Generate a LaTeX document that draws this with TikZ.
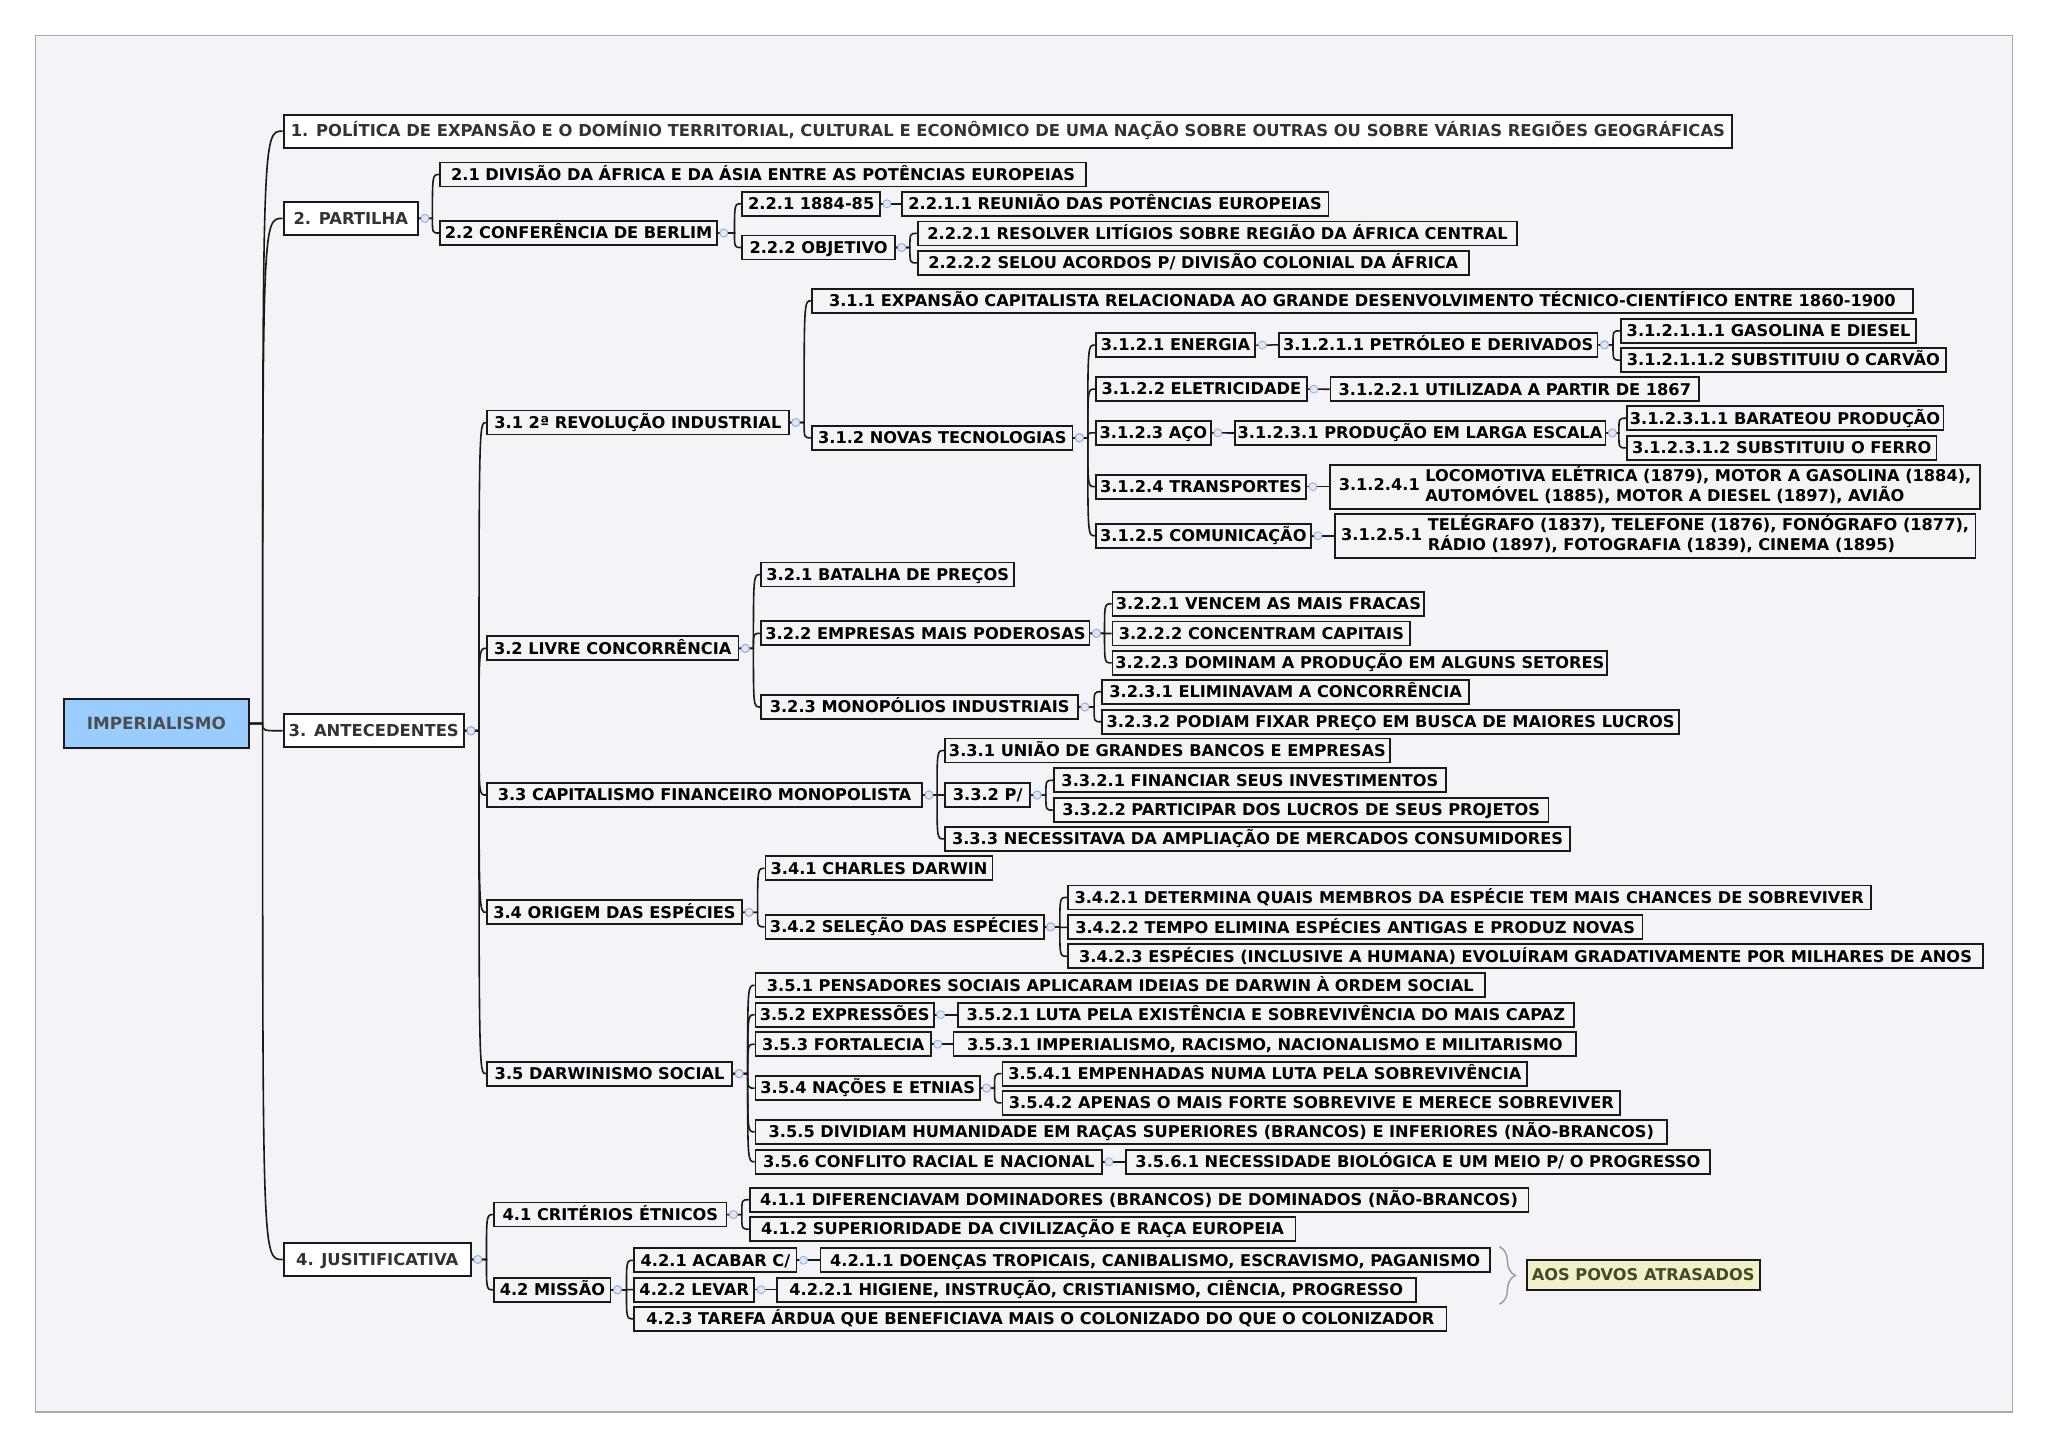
\documentclass[tikz,border=0pt]{standalone}
\usepackage{fontspec}
\setmainfont{DejaVu Sans}
\usetikzlibrary{decorations.pathreplacing}
\definecolor{panelbg}{RGB}{244,244,248}
\definecolor{panelrule}{RGB}{170,170,170}
\definecolor{rootfill}{RGB}{153,204,255}
\definecolor{rootink}{RGB}{77,77,77}
\definecolor{mainink}{RGB}{51,51,51}
\definecolor{subfill}{RGB}{244,244,244}
\definecolor{foldfill}{RGB}{222,231,248}
\definecolor{foldrule}{RGB}{150,172,215}
\definecolor{notefill}{RGB}{240,241,200}
\definecolor{noteink}{RGB}{72,72,40}
\tikzset{
  box/.style={draw=black!90, line width=1.8pt, fill=subfill, anchor=west, inner xsep=3pt, inner ysep=0pt,
    minimum height=24pt, font=\bfseries\fontsize{16.2}{18.3}\selectfont},
  sub/.style={box, text height=13.5pt, text depth=1.8pt},
  subtwo/.style={box, minimum height=44pt},
  main/.style={box, fill=white, line width=2.2pt, minimum height=33pt, text=mainink, inner xsep=5pt,
    font=\bfseries\fontsize{16.4}{18.3}\selectfont, text height=13.5pt, text depth=1.8pt},
  root/.style={box, fill=rootfill, line width=2pt, minimum height=49pt, text=rootink,
    font=\bfseries\fontsize{16.8}{18}\selectfont},
  note/.style={box, fill=notefill, line width=2pt, minimum height=30pt, text=noteink,
    text height=13.5pt, text depth=1.8pt},
  link/.style={line width=1.6pt, black!90},
  fold/.style={fill=foldfill, draw=foldrule, line width=0.8pt},
  summary/.style={decorate, decoration={brace, amplitude=16pt}, line width=1.4pt, black!40},
}
% \topic[style]{name}{left}{right}{y}{text}
\newcommand\topic[6][sub]{\node[#1, minimum width={(#4-#3)*1.306pt-2pt}] (#2) at (#3,#5) {#6};}
\newcommand\branch[3][7pt]{%
  \draw[link] (#2.east) -- ([xshift=-#1]#3.west |- #2.east) .. controls ([xshift=-#1]#3.west) .. (#3.west);
  \draw[fold] ([xshift=6pt]#2.east) circle (4pt);}

\begin{document}
\begin{tikzpicture}[x=1.30612pt, y=-1.30612pt]
\useasboundingbox (0,0) rectangle (1568,1108);
\fill[white] (0,0) rectangle (1568,1108);
\filldraw[fill=panelbg, draw=panelrule, line width=1.2pt] (27,27) rectangle (1541,1081);

\topic[root]{imp}{48}{191.4}{553.9}{IMPERIALISMO}

\topic[main]{pol}{216.4}{1327}{100.4}{1. POLÍTICA DE EXPANSÃO E O DOMÍNIO TERRITORIAL, CULTURAL E ECONÔMICO DE UMA NAÇÃO SOBRE OUTRAS OU SOBRE VÁRIAS REGIÕES GEOGRÁFICAS}
\topic[main]{partilha}{216.4}{320.6}{167.2}{2. PARTILHA}
\topic[main]{antec}{216.4}{355.5}{559.5}{3. ANTECEDENTES}
\topic[main]{justif}{216.4}{361.1}{964.3}{4. JUSITIFICATIVA}

\topic{divisao}{336.4}{832.3}{133.6}{2.1 DIVISÃO DA ÁFRICA E DA ÁSIA ENTRE AS POTÊNCIAS EUROPEIAS}
\topic{berlim}{336.4}{549.7}{178.4}{2.2 CONFERÊNCIA DE BERLIM}
\topic{data}{567.7}{674.6}{156}{2.2.1 1884-85}
\topic{reuniao}{689.8}{1018}{156}{2.2.1.1 REUNIÃO DAS POTÊNCIAS EUROPEIAS}
\topic{objetivo}{567.7}{685.9}{189.5}{2.2.2 OBJETIVO}
\topic{litigios}{702}{1162.5}{178.7}{2.2.2.1 RESOLVER LITÍGIOS SOBRE REGIÃO DA ÁFRICA CENTRAL}
\topic{acordos}{702}{1125.4}{201.3}{2.2.2.2 SELOU ACORDOS P/ DIVISÃO COLONIAL DA ÁFRICA}

\topic{revind}{372.1}{604.8}{323.5}{3.1 2ª REVOLUÇÃO INDUSTRIAL}
\topic{expansao}{621}{1465.3}{230.3}{3.1.1 EXPANSÃO CAPITALISTA RELACIONADA AO GRANDE DESENVOLVIMENTO TÉCNICO-CIENTÍFICO ENTRE 1860-1900}
\topic{novastec}{621}{822}{335.2}{3.1.2 NOVAS TECNOLOGIAS}
\topic{energia}{838.2}{962}{264.2}{3.1.2.1 ENERGIA}
\topic{petroleo}{978.4}{1224}{264}{3.1.2.1.1 PETRÓLEO E DERIVADOS}
\topic{gasolina}{1240.3}{1468}{253.3}{3.1.2.1.1.1 GASOLINA E DIESEL}
\topic{carvao}{1240.3}{1490.6}{275.7}{3.1.2.1.1.2 SUBSTITUIU O CARVÃO}
\topic{eletric}{838.2}{1001.5}{297.9}{3.1.2.2 ELETRICIDADE}
\topic{uso}{1018}{1301.7}{298}{3.1.2.2.1 UTILIZADA A PARTIR DE 1867}
\topic{aco}{838.2}{928}{331.4}{3.1.2.3 AÇO}
\topic{larga}{944.6}{1229}{331.5}{3.1.2.3.1 PRODUÇÃO EM LARGA ESCALA}
\topic{barateou}{1244.8}{1488.8}{320.2}{3.1.2.3.1.1 BARATEOU PRODUÇÃO}
\topic{ferro}{1244.8}{1483.5}{342.9}{3.1.2.3.1.2 SUBSTITUIU O FERRO}
\topic{transp}{838.2}{1000.8}{372.6}{3.1.2.4 TRANSPORTES}
\topic[subtwo]{locom}{1017.6}{1516.9}{372.6}{3.1.2.4.1 \begin{tabular}{@{}l@{}}LOCOMOTIVA ELÉTRICA (1879), MOTOR A GASOLINA (1884),\\AUTOMÓVEL (1885), MOTOR A DIESEL (1897), AVIÃO\end{tabular}}
\topic{comunic}{838.2}{1004.6}{410.2}{3.1.2.5 COMUNICAÇÃO}
\topic[subtwo]{telegr}{1021.2}{1513.4}{410.2}{3.1.2.5.1 \begin{tabular}{@{}l@{}}TELÉGRAFO (1837), TELEFONE (1876), FONÓGRAFO (1877),\\RÁDIO (1897), FOTOGRAFIA (1839), CINEMA (1895)\end{tabular}}

\topic{livre}{372.1}{566.2}{496.4}{3.2 LIVRE CONCORRÊNCIA}
\topic{batalha}{582.2}{777.2}{439.9}{3.2.1 BATALHA DE PREÇOS}
\topic{empresas}{582.2}{835}{484.9}{3.2.2 EMPRESAS MAIS PODEROSAS}
\topic{vencem}{851}{1091.4}{462.3}{3.2.2.1 VENCEM AS MAIS FRACAS}
\topic{concentram}{851}{1080.6}{485}{3.2.2.2 CONCENTRAM CAPITAIS}
\topic{dominam}{851}{1230.8}{507.5}{3.2.2.3 DOMINAM A PRODUÇÃO EM ALGUNS SETORES}
\topic{monopolios}{582.2}{826.2}{541.3}{3.2.3 MONOPÓLIOS INDUSTRIAIS}
\topic{eliminavam}{843}{1125.8}{529.6}{3.2.3.1 ELIMINAVAM A CONCORRÊNCIA}
\topic{podiam}{843}{1286.5}{552.6}{3.2.3.2 PODIAM FIXAR PREÇO EM BUSCA DE MAIORES LUCROS}

\topic{financ}{372.1}{706.8}{608.7}{3.3 CAPITALISMO FINANCEIRO MONOPOLISTA}
\topic{uniao}{722.8}{1065}{574.6}{3.3.1 UNIÃO DE GRANDES BANCOS E EMPRESAS}
\topic{para}{722.8}{789.7}{608.7}{3.3.2 P/}
\topic{financiar}{806.1}{1108}{597.4}{3.3.2.1 FINANCIAR SEUS INVESTIMENTOS}
\topic{participar}{806.1}{1186.5}{620.2}{3.3.2.2 PARTICIPAR DOS LUCROS DE SEUS PROJETOS}
\topic{mercados}{722.8}{1203}{642.3}{3.3.3 NECESSITAVA DA AMPLIAÇÃO DE MERCADOS CONSUMIDORES}

\topic{origem}{372.1}{569}{698.5}{3.4 ORIGEM DAS ESPÉCIES}
\topic{darwin}{585.4}{760.8}{664.8}{3.4.1 CHARLES DARWIN}
\topic{selecao}{585.4}{800}{709.6}{3.4.2 SELEÇÃO DAS ESPÉCIES}
\topic{determina}{816.8}{1433.2}{687.1}{3.4.2.1 DETERMINA QUAIS MEMBROS DA ESPÉCIE TEM MAIS CHANCES DE SOBREVIVER}
\topic{tempo}{816.8}{1258.4}{710}{3.4.2.2 TEMPO ELIMINA ESPÉCIES ANTIGAS E PRODUZ NOVAS}
\topic{evoluiram}{816.8}{1519.4}{732.1}{3.4.2.3 ESPÉCIES (INCLUSIVE A HUMANA) EVOLUÍRAM GRADATIVAMENTE POR MILHARES DE ANOS}

\topic{darwsoc}{372.1}{561.5}{822}{3.5 DARWINISMO SOCIAL}
\topic{pensadores}{577.8}{1137.9}{754.4}{3.5.1 PENSADORES SOCIAIS APLICARAM IDEIAS DE DARWIN À ORDEM SOCIAL}
\topic{expressoes}{577.8}{715.8}{776.9}{3.5.2 EXPRESSÕES}
\topic{luta}{732.5}{1206}{776.9}{3.5.2.1 LUTA PELA EXISTÊNCIA E SOBREVIVÊNCIA DO MAIS CAPAZ}
\topic{fortalecia}{577.8}{713.6}{799.5}{3.5.3 FORTALECIA}
\topic{ismos}{729.4}{1207.6}{799.5}{3.5.3.1 IMPERIALISMO, RACISMO, NACIONALISMO E MILITARISMO}
\topic{nacoes}{577.8}{751}{833.1}{3.5.4 NAÇÕES E ETNIAS}
\topic{empenhadas}{766.8}{1170.2}{822}{3.5.4.1 EMPENHADAS NUMA LUTA PELA SOBREVIVÊNCIA}
\topic{maisforte}{766.8}{1241.4}{844.4}{3.5.4.2 APENAS O MAIS FORTE SOBREVIVE E MERECE SOBREVIVER}
\topic{racas}{577.8}{1277.3}{866.6}{3.5.5 DIVIDIAM HUMANIDADE EM RAÇAS SUPERIORES (BRANCOS) E INFERIORES (NÃO-BRANCOS)}
\topic{conflito}{577.8}{844.6}{889.5}{3.5.6 CONFLITO RACIAL E NACIONAL}
\topic{biologica}{861.3}{1310.2}{889.5}{3.5.6.1 NECESSIDADE BIOLÓGICA E UM MEIO P/ O PROGRESSO}

\topic{etnicos}{377.8}{557.1}{929.9}{4.1 CRITÉRIOS ÉTNICOS}
\topic{diferenc}{573.3}{1171.1}{918.5}{4.1.1 DIFERENCIAVAM DOMINADORES (BRANCOS) DE DOMINADOS (NÃO-BRANCOS)}
\topic{superior}{573.3}{992.7}{941}{4.1.2 SUPERIORIDADE DA CIVILIZAÇÃO E RAÇA EUROPEIA}
\topic{missao}{377.8}{468.3}{987.5}{4.2 MISSÃO}
\topic{acabar}{485}{610.7}{964.9}{4.2.1 ACABAR C/}
\topic{doencas}{627.5}{1141.5}{964.9}{4.2.1.1 DOENÇAS TROPICAIS, CANIBALISMO, ESCRAVISMO, PAGANISMO}
\topic{levar}{485}{578.3}{987.4}{4.2.2 LEVAR}
\topic{higiene}{594}{1084.9}{987.4}{4.2.2.1 HIGIENE, INSTRUÇÃO, CRISTIANISMO, CIÊNCIA, PROGRESSO}
\topic{tarefa}{485}{1108.3}{1009.7}{4.2.3 TAREFA ÁRDUA QUE BENEFICIAVA MAIS O COLONIZADO DO QUE O COLONIZADOR}

\topic[note]{povos}{1168.2}{1347.9}{976.2}{AOS POVOS ATRASADOS}
\coordinate (bracetop) at (1148,954.5);
\coordinate (bracebot) at (1148,998.5);
\draw[summary] (bracetop) -- (bracebot);

\foreach \c in {pol,partilha,antec,justif}
  \draw[link] (imp.east) -- ([xshift=-20pt]\c.west |- imp.east) .. controls ([xshift=-20pt]\c.west) .. (\c.west);

\foreach \p/\c in {partilha/divisao, partilha/berlim, berlim/data, berlim/objetivo, data/reuniao,
    objetivo/litigios, objetivo/acordos,
    antec/revind, antec/livre, antec/financ, antec/origem, antec/darwsoc,
    revind/expansao, revind/novastec,
    novastec/energia, novastec/eletric, novastec/aco, novastec/transp, novastec/comunic,
    energia/petroleo, petroleo/gasolina, petroleo/carvao, eletric/uso,
    aco/larga, larga/barateou, larga/ferro, transp/locom, comunic/telegr,
    livre/batalha, livre/empresas, livre/monopolios,
    empresas/vencem, empresas/concentram, empresas/dominam,
    monopolios/eliminavam, monopolios/podiam,
    financ/uniao, financ/para, financ/mercados, para/financiar, para/participar,
    origem/darwin, origem/selecao, selecao/determina, selecao/tempo, selecao/evoluiram,
    darwsoc/pensadores, darwsoc/expressoes, darwsoc/fortalecia, darwsoc/nacoes, darwsoc/racas, darwsoc/conflito,
    expressoes/luta, fortalecia/ismos, nacoes/empenhadas, nacoes/maisforte, conflito/biologica,
    justif/etnicos, justif/missao, etnicos/diferenc, etnicos/superior,
    missao/acabar, missao/levar, missao/tarefa, acabar/doencas, levar/higiene}
  {\branch{\p}{\c}}
\end{tikzpicture}
\end{document}
